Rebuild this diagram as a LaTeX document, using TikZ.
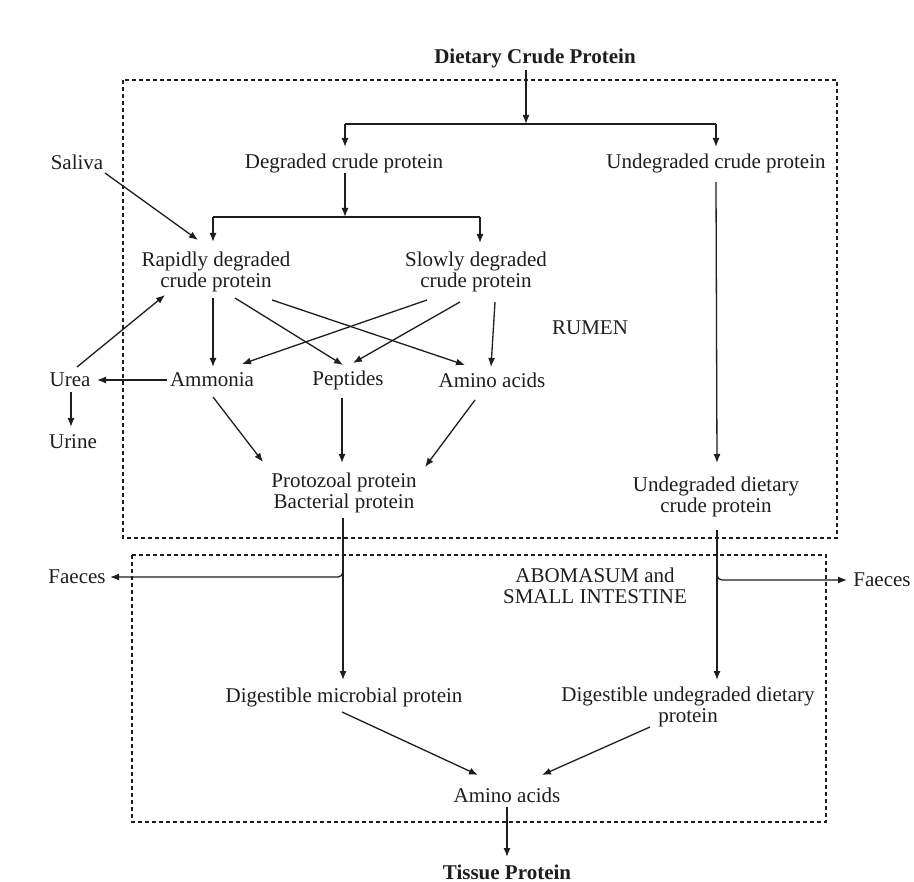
\documentclass[tikz,border=0pt]{standalone}
\usepackage{fontspec}
\setmainfont{Liberation Serif}
\usetikzlibrary{arrows.meta,calc}
\definecolor{ink}{HTML}{1E1E1E}
\tikzset{
  lbl/.style={inner sep=0pt, text=ink, align=center, font=\fontsize{21}{20.5}\selectfont},
  bold/.style={lbl, font=\fontsize{21}{20.5}\selectfont\bfseries},
  arr/.style={draw=ink, line width=1.3pt, -{Latex[length=9pt,width=7pt]}},
  ln/.style={draw=ink, line width=1.3pt},
  zone/.style={draw=ink, line width=1.3pt, dash pattern=on 4pt off 3pt}
}
\begin{document}
\begin{tikzpicture}[x=1pt,y=-1pt]
\useasboundingbox[fill=white] (0,0) rectangle (914,882);
% zones
\draw[zone] (123,80) rectangle (837,538);
\draw[zone] (132,555) rectangle (826,822);
% nodes
\node[bold] (dcp) at (535,58) {Dietary Crude Protein};
\node[lbl] (deg) at (344,163) {Degraded crude protein};
\node[lbl] (undeg) at (716,163) {Undegraded crude protein};
\node[lbl] (saliva) at (77,162) {Saliva};
\node[lbl] (rapid) at (216,272) {Rapidly degraded\\crude protein};
\node[lbl] (slow) at (476,272) {Slowly degraded\\crude protein};
\node[lbl] (rumen) at (590,328) {RUMEN};
\node[lbl] (urea) at (70,380) {Urea};
\node[lbl] (ammonia) at (212,380) {Ammonia};
\node[lbl] (peptides) at (348,380) {Peptides};
\node[lbl] (amino1) at (492,380) {Amino acids};
\node[lbl] (urine) at (73,442) {Urine};
\node[lbl] (micro) at (344,493) {Protozoal protein\\Bacterial protein};
\node[lbl] (udcp) at (716,497) {Undegraded dietary\\crude protein};
\node[lbl] (abom) at (595,586) {ABOMASUM and\\SMALL INTESTINE};
\node[lbl] (faecesL) at (77,577) {Faeces};
\node[lbl] (faecesR) at (882,580) {Faeces};
\node[lbl] (dmp) at (344,697) {Digestible microbial protein};
\node[lbl] (dudp) at (688,707) {Digestible undegraded dietary\\protein};
\node[lbl] (amino2) at (507,795) {Amino acids};
\node[bold] (tissue) at (507,872) {Tissue Protein};
% junctions
\coordinate (j1M) at (526,124);
\coordinate (j1L) at (345,124);
\coordinate (j1R) at (716,124);
\coordinate (j2M) at (345,217);
\coordinate (j2L) at (213,217);
\coordinate (j2R) at (480,217);
% connectors
\draw[arr] ($(dcp)+(-9,12)$) -- (j1M);
\draw[ln] (j1L) -- (j1R);
\draw[arr] (j1L) -- ($(deg)+(1,-16)$);
\draw[arr] (j1R) -- ($(undeg)+(0,-16)$);
\draw[arr] ($(deg)+(1,10)$) -- (j2M);
\draw[ln] (j2L) -- (j2R);
\draw[arr] (j2L) -- ($(rapid)+(-3,-30)$);
\draw[arr] (j2R) -- ($(slow)+(4,-29)$);
\draw[arr] ($(saliva)+(28,11)$) -- ($(rapid)+(-18,-32)$);
\draw[arr] ($(urea)+(7,-13)$) -- ($(rapid)+(-51,23)$);
\draw[arr] ($(ammonia)+(-45,0)$) -- ($(urea)+(27,0)$);
\draw[arr] ($(urea)+(1,12)$) -- ($(urine)+(-2,-15)$);
\draw[arr] ($(rapid)+(-3,26)$) -- ($(ammonia)+(1,-13)$);
\draw[arr] ($(rapid)+(19,26)$) -- ($(peptides)+(-5,-15)$);
\draw[arr] ($(rapid)+(56,28)$) -- ($(amino1)+(-27,-15)$);
\draw[arr] ($(slow)+(-49,28)$) -- ($(ammonia)+(30,-16)$);
\draw[arr] ($(slow)+(-16,30)$) -- ($(peptides)+(5,-17)$);
\draw[arr] ($(slow)+(19,30)$) -- ($(amino1)+(-1,-13)$);
\draw[arr] ($(ammonia)+(1,17)$) -- ($(micro)+(-81,-31)$);
\draw[arr] ($(peptides)+(-6,18)$) -- ($(micro)+(-2,-30)$);
\draw[arr] ($(amino1)+(-17,20)$) -- ($(micro)+(81,-26)$);
\draw[arr] ($(undeg)+(0,19)$) -- ($(udcp)+(1,-34)$);
\draw[arr] ($(micro)+(-1,25)$) -- ($(dmp)+(-1,-17)$);
\draw[arr, rounded corners=5pt] ($(micro)+(-1,62)$) |- ($(faecesL)+(33,0)$);
\draw[arr] ($(udcp)+(1,33)$) -- ($(dudp)+(29,-27)$);
\draw[arr, rounded corners=5pt] ($(udcp)+(1,66)$) |- ($(faecesR)+(-35,0)$);
\draw[arr] ($(dmp)+(-2,15)$) -- ($(amino2)+(-29,-20)$);
\draw[arr] ($(dudp)+(-38,20)$) -- ($(amino2)+(35,-20)$);
\draw[arr] ($(amino2)+(0,12)$) -- ($(tissue)+(0,-15)$);
\end{tikzpicture}
\end{document}
